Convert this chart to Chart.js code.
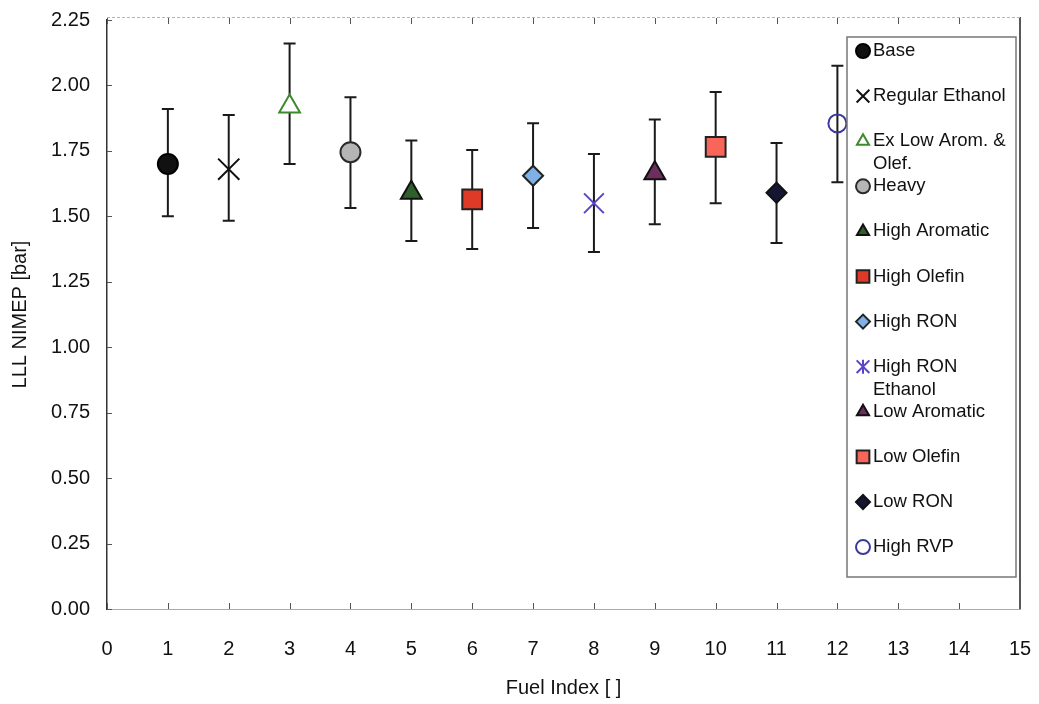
<!DOCTYPE html>
<html>
<head>
<meta charset="utf-8">
<script src="https://cdn.jsdelivr.net/npm/chart.js@4/dist/chart.umd.min.js"></script>
<style>
  body { margin: 0; background: #fff; }
  canvas { display: block; }
</style>
</head>
<body>
<canvas id="chart" width="1039" height="704"></canvas>
<script>
const fuelNames = ['Base', 'Regular Ethanol', 'Ex Low Arom. & Olef.', 'Heavy', 'High Aromatic', 'High Olefin',
  'High RON', 'High RON Ethanol', 'Low Aromatic', 'Low Olefin', 'Low RON', 'High RVP']
const fuelIndex = [1, 2, 3, 4, 5, 6, 7, 8, 9, 10, 11, 12]
const nimep = [1.70, 1.68, 1.92, 1.745, 1.59, 1.565, 1.655, 1.55, 1.665, 1.765, 1.59, 1.855]
const nimepLow = [1.50, 1.483, 1.70, 1.532, 1.406, 1.375, 1.455, 1.364, 1.47, 1.55, 1.398, 1.63]
const nimepHigh = [1.91, 1.887, 2.16, 1.955, 1.79, 1.753, 1.856, 1.738, 1.87, 1.975, 1.78, 2.075]
const xTicks = [0, 1, 2, 3, 4, 5, 6, 7, 8, 9, 10, 11, 12, 13, 14, 15]
const yTicks = [0, 0.25, 0.5, 0.75, 1, 1.25, 1.5, 1.75, 2, 2.25]

// marker looks
const markers = [
  { style: 'circle', r: 10, fill: '#111', line: '#000' },
  { style: 'crossRot', r: 15, fill: '#111', line: '#111' },
  { style: 'triangle', r: 12, fill: '#fff', line: '#3d8a2c' },
  { style: 'circle', r: 10, fill: '#b5b5b5', line: '#2a2a2a' },
  { style: 'triangle', r: 12, fill: '#2f5f2b', line: '#111' },
  { style: 'rect', r: 14, fill: '#df3a28', line: '#222' },
  { style: 'rectRot', r: 10, fill: '#80b0e6', line: '#222' },
  { style: 'crossRot', r: 14, fill: '#5a44c8', line: '#5a44c8' },
  { style: 'triangle', r: 12, fill: '#6c2e5e', line: '#111' },
  { style: 'rect', r: 14, fill: '#f8665a', line: '#222' },
  { style: 'rectRot', r: 10, fill: '#141634', line: '#111' },
  { style: 'circle', r: 9, fill: 'rgba(0,0,0,0)', line: '#3a3a9c' }
]

const datasets = fuelNames.map(function(name, i){
  return {
    label: name,
    data: [{ x: fuelIndex[i], y: nimep[i] }],
    pointStyle: markers[i].style,
    pointRadius: markers[i].r,
    pointHoverRadius: markers[i].r,
    backgroundColor: markers[i].fill,
    borderColor: markers[i].line,
    pointBorderWidth: 2,
    showLine: false
  }
})

const FONT = 'Arial, "Liberation Sans", sans-serif'

// error bars, drawn under the markers
const errorBars = {
  id: 'errorBars',
  beforeDatasetsDraw(chart) {
    const ctx = chart.ctx
    const xs = chart.scales.x, ys = chart.scales.y
    ctx.save()
    ctx.strokeStyle = '#1a1a1a'
    ctx.lineWidth = 2
    for (let i = 0; i < fuelIndex.length; i++) {
      const px = xs.getPixelForValue(fuelIndex[i])
      const top = ys.getPixelForValue(nimepHigh[i])
      const bot = ys.getPixelForValue(nimepLow[i])
      ctx.beginPath()
      ctx.moveTo(px, top); ctx.lineTo(px, bot)
      ctx.moveTo(px - 6, top); ctx.lineTo(px + 6, top)
      ctx.moveTo(px - 6, bot); ctx.lineTo(px + 6, bot)
      ctx.stroke()
    }
    ctx.restore()
  }
}

// frame, inward ticks and the boxed legend
const frameAndLegend = {
  id: 'frameAndLegend',
  afterDraw(chart) {
    const ctx = chart.ctx
    const a = chart.chartArea
    const xs = chart.scales.x, ys = chart.scales.y
    ctx.save()
    // right border
    ctx.strokeStyle = '#222'
    ctx.lineWidth = 1.5
    ctx.beginPath(); ctx.moveTo(a.right, a.top - 3); ctx.lineTo(a.right, a.bottom); ctx.stroke()
    // top border, light and dotted
    ctx.strokeStyle = '#b5b5b5'
    ctx.lineWidth = 1
    ctx.setLineDash([3, 2])
    ctx.beginPath(); ctx.moveTo(a.left, a.top - 2.5); ctx.lineTo(a.right, a.top - 2.5); ctx.stroke()
    ctx.setLineDash([])
    // inward ticks
    ctx.strokeStyle = '#555'
    ctx.beginPath()
    xTicks.forEach(function(v){
      const px = Math.round(xs.getPixelForValue(v)) + 0.5
      ctx.moveTo(px, a.bottom); ctx.lineTo(px, a.bottom - 6)
      ctx.moveTo(px, a.top - 2); ctx.lineTo(px, a.top + 4)
    })
    yTicks.forEach(function(v){
      const py = Math.round(ys.getPixelForValue(v)) + 0.5
      ctx.moveTo(a.left, py); ctx.lineTo(a.left + 5, py)
    })
    ctx.stroke()

    // legend box
    const lx = 847, ly = 37, lw = 169, lh = 540
    ctx.fillStyle = '#fff'
    ctx.fillRect(lx, ly, lw, lh)
    ctx.strokeStyle = '#777'
    ctx.lineWidth = 1.5
    ctx.strokeRect(lx, ly, lw, lh)
    const lines = [['Base'], ['Regular Ethanol'], ['Ex Low Arom. &', 'Olef.'], ['Heavy'], ['High Aromatic'],
      ['High Olefin'], ['High RON'], ['High RON', 'Ethanol'], ['Low Aromatic'], ['Low Olefin'], ['Low RON'], ['High RVP']]
    ctx.font = '18.5px ' + FONT
    ctx.textBaseline = 'middle'
    ctx.textAlign = 'left'
    for (let i = 0; i < fuelNames.length; i++) {
      const cy = 51 + i * 45.1
      const m = markers[i]
      ctx.fillStyle = m.fill
      ctx.strokeStyle = m.line
      ctx.lineWidth = 2
      const r = m.style === 'rect' ? 9 : (m.style === 'crossRot' ? 9 : 7)
      Chart.helpers.drawPoint(ctx, { pointStyle: m.style, radius: r, rotation: 0, borderWidth: 2 }, 863, cy)
      if (i === 7) {
        // asterisk look for the ethanol marker
        ctx.beginPath(); ctx.moveTo(863, cy - 7); ctx.lineTo(863, cy + 7); ctx.stroke()
      }
      ctx.fillStyle = '#111'
      lines[i].forEach(function(t, k){
        ctx.fillText(t, 873, cy + k * 23)
      })
    }
    ctx.restore()
  }
}

new Chart(document.getElementById('chart'), {
  type: 'scatter',
  data: { datasets: datasets },
  options: {
    responsive: false,
    animation: false,
    layout: { padding: { top: 20, right: 19, left: 0, bottom: 0 } },
    plugins: {
      legend: { display: false },
      tooltip: { enabled: false }
    },
    scales: {
      x: {
        type: 'linear',
        min: 0, max: 15,
        afterBuildTicks(scale) { scale.ticks = xTicks.map(function(v){ return { value: v } }) },
        afterFit(scale) { scale.height = 95; scale.paddingLeft = 0; scale.paddingRight = 0 },
        grid: { display: false, drawTicks: false },
        border: { display: true, color: '#aaa', width: 1 },
        ticks: { padding: 28, color: '#111', font: { family: FONT, size: 20 } },
        title: { display: true, text: 'Fuel Index [ ]', color: '#111', padding: { top: 14 }, font: { family: FONT, size: 20 } }
      },
      y: {
        type: 'linear',
        min: 0, max: 2.25,
        afterBuildTicks(scale) { scale.ticks = yTicks.map(function(v){ return { value: v } }) },
        afterFit(scale) { scale.width = 107; scale.paddingTop = 0; scale.paddingBottom = 0 },
        grid: { display: false, drawTicks: false },
        border: { display: true, color: '#333', width: 1.5 },
        ticks: {
          padding: 17, color: '#111', font: { family: FONT, size: 20 },
          callback: function(v){ return Number(v).toFixed(2) }
        },
        title: { display: true, text: 'LLL NIMEP [bar]', color: '#111', padding: { top: 8, bottom: 0 }, font: { family: FONT, size: 20 } }
      }
    }
  },
  plugins: [errorBars, frameAndLegend]
})
</script>
</body>
</html>
